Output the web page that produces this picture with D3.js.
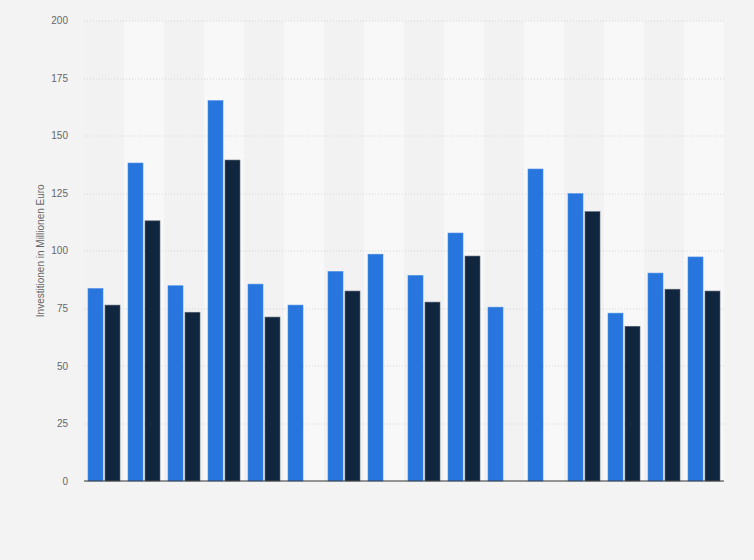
<!DOCTYPE html>
<html>
<head>
<meta charset="utf-8">
<script src="https://cdn.jsdelivr.net/npm/d3@7/dist/d3.min.js"></script>
<style>
  body { margin: 0; background: #f3f3f3; }
  svg { display: block; font-family: "Liberation Sans", Arial, sans-serif; }
  .tick-label { fill: #666; font-size: 10px; }
  .axis-label { fill: #666; font-size: 10px; }
</style>
</head>
<body>
<div id="chart"></div>
<script>
// Chart data (no category labels are shown in the picture)
const categories = ["K1", "K2", "K3", "K4", "K5", "K6", "K7", "K8",
                    "K9", "K10", "K11", "K12", "K13", "K14", "K15", "K16"];
const seriesA = [83.6, 138.1, 84.8, 165.2, 85.5, 76.4, 91.0, 98.5,
                 89.3, 107.7, 75.5, 135.5, 124.8, 72.9, 90.3, 97.3];
const seriesB = [76.4, 113.0, 73.3, 139.4, 71.2, null, 82.5, null,
                 77.7, 97.7, null, null, 117.0, 67.2, 83.3, 82.5];
const yTicks = [0, 25, 50, 75, 100, 125, 150, 175, 200];

function createChart() {
    const W = 754, H = 560;
    const margin = { top: 20.5, right: 30, bottom: 79, left: 84 };
    const width = W - margin.left - margin.right;
    const height = H - margin.top - margin.bottom;

    const svg = d3.select("#chart")
        .append("svg")
        .attr("width", W)
        .attr("height", H);

    const g = svg.append("g")
        .attr("transform", `translate(${margin.left}, ${margin.top})`);

    // Scales
    const xScale = d3.scaleBand()
        .domain(categories)
        .range([0, width])
        .padding(0);

    const bw = xScale.bandwidth();
    const subScale = d3.scaleBand()
        .domain(["a", "b"])
        .range([bw * 0.1, bw * 0.9])
        .paddingInner(2 / 17);

    const yScale = d3.scaleLinear()
        .domain([0, 200])
        .range([height, 0]);

    // Alternating background bands
    g.selectAll(".band")
        .data(categories)
        .enter()
        .append("rect")
        .attr("class", "band")
        .attr("x", d => xScale(d))
        .attr("y", 0)
        .attr("width", bw)
        .attr("height", height)
        .attr("fill", (d, i) => i % 2 === 1 ? "#f8f8f8" : "#f2f2f2");

    // Grid lines
    g.append("g")
        .selectAll("line")
        .data(yTicks.filter(t => t > 0))
        .enter()
        .append("line")
        .attr("x1", 0)
        .attr("x2", width)
        .attr("y1", d => Math.round(yScale(d)) + 0.5)
        .attr("y2", d => Math.round(yScale(d)) + 0.5)
        .attr("stroke", "#d4d4d4")
        .attr("stroke-width", 1)
        .attr("stroke-dasharray", "1,2");

    // Y-axis tick labels
    const yAxis = g.append("g")
        .call(d3.axisLeft(yScale).tickValues(yTicks).tickSize(0).tickPadding(16));
    yAxis.select(".domain").remove();
    yAxis.selectAll("text")
        .attr("class", "tick-label")
        .attr("fill", "#707070")
        .style("font-size", "10px")
        .style("font-family", "'Liberation Sans', Arial, sans-serif");

    // Bars: first series
    g.selectAll(".bar-a")
        .data(categories)
        .enter()
        .append("rect")
        .attr("class", "bar-a")
        .attr("x", d => xScale(d) + subScale("a"))
        .attr("y", (d, i) => yScale(seriesA[i]))
        .attr("width", subScale.bandwidth())
        .attr("height", (d, i) => height - yScale(seriesA[i]))
        .attr("fill", "#2876dd")
        .attr("stroke", "#4b8fe6")
        .attr("stroke-width", 0.6);

    // Bars: second series (some values missing)
    const bData = categories.map((c, i) => ({ c, v: seriesB[i] })).filter(d => d.v !== null);
    g.selectAll(".bar-b")
        .data(bData)
        .enter()
        .append("rect")
        .attr("class", "bar-b")
        .attr("x", d => xScale(d.c) + subScale("b"))
        .attr("y", d => yScale(d.v))
        .attr("width", subScale.bandwidth())
        .attr("height", d => height - yScale(d.v))
        .attr("fill", "#10263e")
        .attr("stroke", "#5a6878")
        .attr("stroke-width", 0.6);

    // X-axis line
    g.append("line")
        .attr("x1", 0)
        .attr("x2", width)
        .attr("y1", height)
        .attr("y2", height)
        .attr("stroke", "#333")
        .attr("stroke-width", 1.2);

    // Y-axis title
    g.append("text")
        .attr("class", "axis-label")
        .attr("transform", "rotate(-90)")
        .attr("x", -height / 2)
        .attr("y", -40)
        .attr("text-anchor", "middle")
        .text("Investitionen in Millionen Euro");
}

createChart();
</script>
</body>
</html>
